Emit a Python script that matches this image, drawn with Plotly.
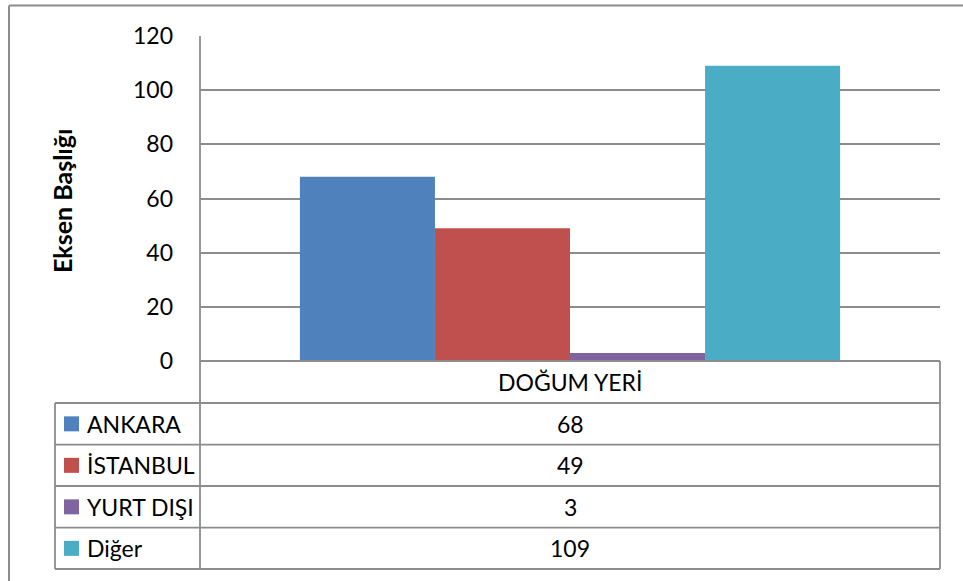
import plotly.graph_objects as go

# data
category = "DOĞUM YERİ"
series_names = ["ANKARA", "İSTANBUL", "YURT DIŞI", "Diğer"]
series_values = [68, 49, 3, 109]
series_colors = ["#4F81BD", "#C0504D", "#8064A2", "#4BACC6"]
y_ticks = [0, 20, 40, 60, 80, 100, 120]
axis_title = "Eksen Başlığı"

FONT = "Lato, Noto Sans, sans-serif"
GRID = "#8C8C8C"
FS = 23

W, H = 963, 581
L, R, T, B = 200, 940, 36, 361  # plot area in pixels


def px_x(px):
    return (px - L) / (R - L)


def px_y(py):
    return (B - py) / (B - T)


fig = go.Figure()
for name, val, col in zip(series_names, series_values, series_colors):
    fig.add_trace(go.Bar(x=[category], y=[val], name=name,
                         marker=dict(color=col, line=dict(width=0))))

fig.update_layout(
    width=W, height=H,
    margin=dict(l=L, r=W - R, t=T, b=H - B, pad=0),
    paper_bgcolor="white", plot_bgcolor="white",
    barmode="group", bargap=0.27, bargroupgap=0,
    showlegend=False,
    font=dict(family=FONT, size=FS, color="black"),
)
fig.update_xaxes(showticklabels=False, showgrid=False, zeroline=False,
                 showline=False, fixedrange=True)
fig.update_yaxes(range=[0, 120], tickvals=y_ticks, showgrid=True,
                 gridcolor=GRID, gridwidth=1.8, zeroline=False, showline=False,
                 ticklabelstandoff=26, tickfont=dict(size=FS))

shapes = []


def line(x0, y0, x1, y1, w=1.8):
    shapes.append(dict(type="line", xref="paper", yref="paper",
                       x0=px_x(x0), y0=px_y(y0), x1=px_x(x1), y1=px_y(y1),
                       line=dict(color=GRID, width=w)))


# outer chart border (cropped at right and bottom)
line(9, 5.5, 990, 5.5, 2)
line(9, 5.5, 9, 600, 2)

# axis + data table grid
row_edges = [361, 403, 444.7, 486, 527.7, 569]
line(L, T, L, row_edges[-1])
line(R, B, R, row_edges[-1])
line(55, row_edges[1], 55, row_edges[-1])
line(L, B, R, B)
line(55, row_edges[1], R, row_edges[1])
for e in row_edges[2:]:
    line(55, e, R, e)

annotations = [dict(text=f"<b>{axis_title}</b>", xref="paper", yref="paper",
                    x=px_x(62), y=px_y(201), textangle=-90, showarrow=False,
                    xanchor="center", yanchor="middle", font=dict(size=25))]
annotations.append(dict(text=category, xref="paper", yref="paper",
                        x=0.5, y=px_y((row_edges[0] + row_edges[1]) / 2),
                        xanchor="center", yanchor="middle", showarrow=False))
for i, (name, val, col) in enumerate(zip(series_names, series_values, series_colors)):
    cy = (row_edges[i + 1] + row_edges[i + 2]) / 2
    shapes.append(dict(type="rect", xref="paper", yref="paper",
                       x0=px_x(64), x1=px_x(79), y0=px_y(cy - 7.5), y1=px_y(cy + 7.5),
                       fillcolor=col, line=dict(width=0)))
    annotations.append(dict(text=name, xref="paper", yref="paper",
                            x=px_x(85), y=px_y(cy), xanchor="left",
                            yanchor="middle", showarrow=False))
    annotations.append(dict(text=str(val), xref="paper", yref="paper",
                            x=0.5, y=px_y(cy), xanchor="center",
                            yanchor="middle", showarrow=False))

fig.update_layout(shapes=shapes, annotations=annotations)
# drop the default page margin so the figure sits at the window corner
fig.write_html("out.html", config={"displayModeBar": False},
               post_script="document.body.style.margin='0';")
